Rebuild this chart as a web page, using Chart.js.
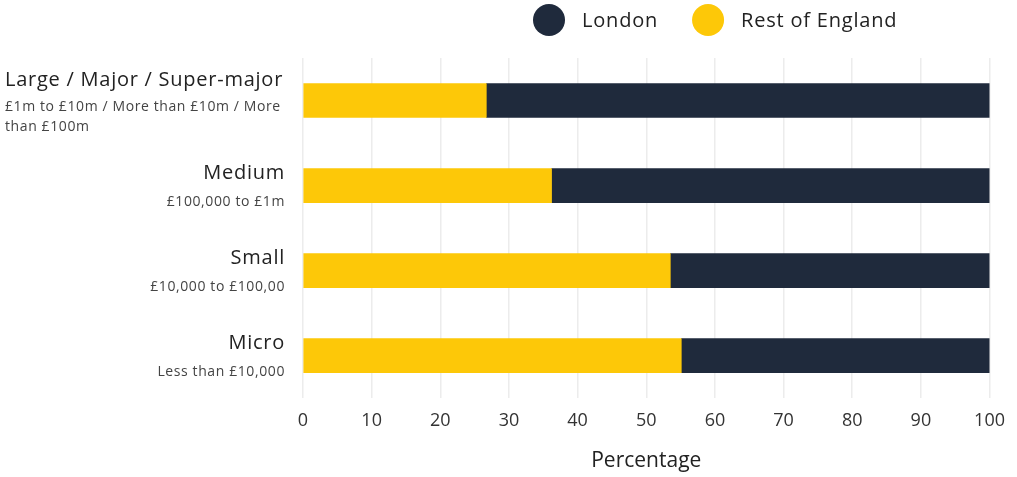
<!DOCTYPE html>
<html>
<head>
<meta charset="utf-8">
<script src="https://cdn.jsdelivr.net/npm/chart.js@4.4.1/dist/chart.umd.min.js"></script>
<style>
  html, body { margin: 0; padding: 0; background: #fff; }
  #wrap { width: 1017px; height: 477px; }
</style>
</head>
<body>
<div id="wrap"><canvas id="chart"></canvas></div>
<script>
// data
const categories = ["Large / Major / Super-major", "Medium", "Small", "Micro"];
const subLabels = ["£1m to £10m / More than £10m / More than £100m", "£100,000 to £1m", "£10,000 to £100,00", "Less than £10,000"];
const restOfEngland = [26.7, 36.2, 53.5, 55.1];
const london = [73.3, 63.8, 46.5, 44.9];
const xTicks = [0, 10, 20, 30, 40, 50, 60, 70, 80, 90, 100];

const YELLOW = "#fdc808";
const NAVY = "#1f2a3c";
const FONT = "'Open Sans', Lato, sans-serif";

// word wrap helper for the category notes
function wrap(ctx, text, maxW) {
  const words = text.split(" ");
  const lines = [];
  let cur = "";
  for (const w of words) {
    const test = cur ? cur + " " + w : w;
    if (ctx.measureText(test).width > maxW && cur) {
      lines.push(cur);
      cur = w;
    } else {
      cur = test;
    }
  }
  if (cur) lines.push(cur);
  return lines;
}

// draws the two-part category labels on the left and the round legend on top
const sideLabels = {
  id: "sideLabels",
  afterDraw(chart) {
    const { ctx, chartArea, scales } = chart;
    const right = chartArea.left - 18;
    const maxW = 282;
    ctx.save();
    ctx.textBaseline = "middle";

    categories.forEach((cat, i) => {
      const yc = scales.y.getPixelForValue(i);
      ctx.letterSpacing = "0.75px";
      ctx.font = "20px " + FONT;
      const titleW = ctx.measureText(cat).width;
      ctx.letterSpacing = "0.6px";
      ctx.font = "14px " + FONT;
      const lines = wrap(ctx, subLabels[i], maxW);
      const multi = lines.length > 1;
      const wide = multi || titleW > maxW - 20;
      const blockH = 28 + (lines.length - 1) * 20;
      const top = yc - blockH / 2 + (multi ? 2 : 0);

      ctx.textAlign = wide ? "left" : "right";
      const x = wide ? right - maxW + 2 : right;

      ctx.fillStyle = "#222";
      ctx.letterSpacing = "0.75px";
      ctx.font = "20px " + FONT;
      ctx.fillText(cat, x, top + 2);

      ctx.fillStyle = "#444";
      ctx.letterSpacing = "0.6px";
      ctx.font = "14px " + FONT;
      lines.forEach((ln, j) => ctx.fillText(ln, x, top + 28 + (multi ? 0 : 2) + j * 20));
    });

    // legend
    ctx.font = "20px " + FONT;
    ctx.letterSpacing = "0.8px";
    ctx.textAlign = "left";
    let lx = 533;
    const ly = 20;
    const order = [1, 0];
    order.forEach(k => {
      const ds = chart.data.datasets[k];
      ctx.fillStyle = ds.backgroundColor;
      ctx.beginPath();
      ctx.arc(lx + 16, ly, 16, 0, Math.PI * 2);
      ctx.fill();
      ctx.fillStyle = "#222";
      ctx.fillText(ds.label, lx + 49, ly + 1);
      lx += 49 + ctx.measureText(ds.label).width + 34;
    });
    ctx.restore();
  }
};

const ctx = document.getElementById("chart").getContext("2d");
new Chart(ctx, {
  type: "bar",
  data: {
    labels: categories,
    datasets: [
      {
        label: "Rest of England",
        data: restOfEngland,
        backgroundColor: YELLOW,
        barThickness: 34
      },
      {
        label: "London",
        data: london,
        backgroundColor: NAVY,
        barThickness: 34
      }
    ]
  },
  options: {
    indexAxis: "y",
    responsive: true,
    maintainAspectRatio: false,
    animation: false,
    layout: {
      padding: { left: 303, top: 58, right: 25, bottom: 0 }
    },
    plugins: {
      legend: { display: false },
      tooltip: { enabled: false }
    },
    scales: {
      x: {
        stacked: true,
        min: 0,
        max: 100,
        afterBuildTicks: axis => {
          axis.ticks = xTicks.map(v => ({ value: v }));
        },
        grid: { color: "#ececec", lineWidth: 1.5, drawTicks: false },
        border: { display: false },
        ticks: {
          color: "#333",
          padding: 12,
          font: { family: FONT, size: 18 }
        },
        title: {
          display: true,
          text: "Percentage",
          color: "#222",
          padding: { top: 5, bottom: 3 },
          font: { family: FONT, size: 21 }
        }
      },
      y: {
        stacked: true,
        display: false
      }
    }
  },
  plugins: [sideLabels]
});
</script>
</body>
</html>
